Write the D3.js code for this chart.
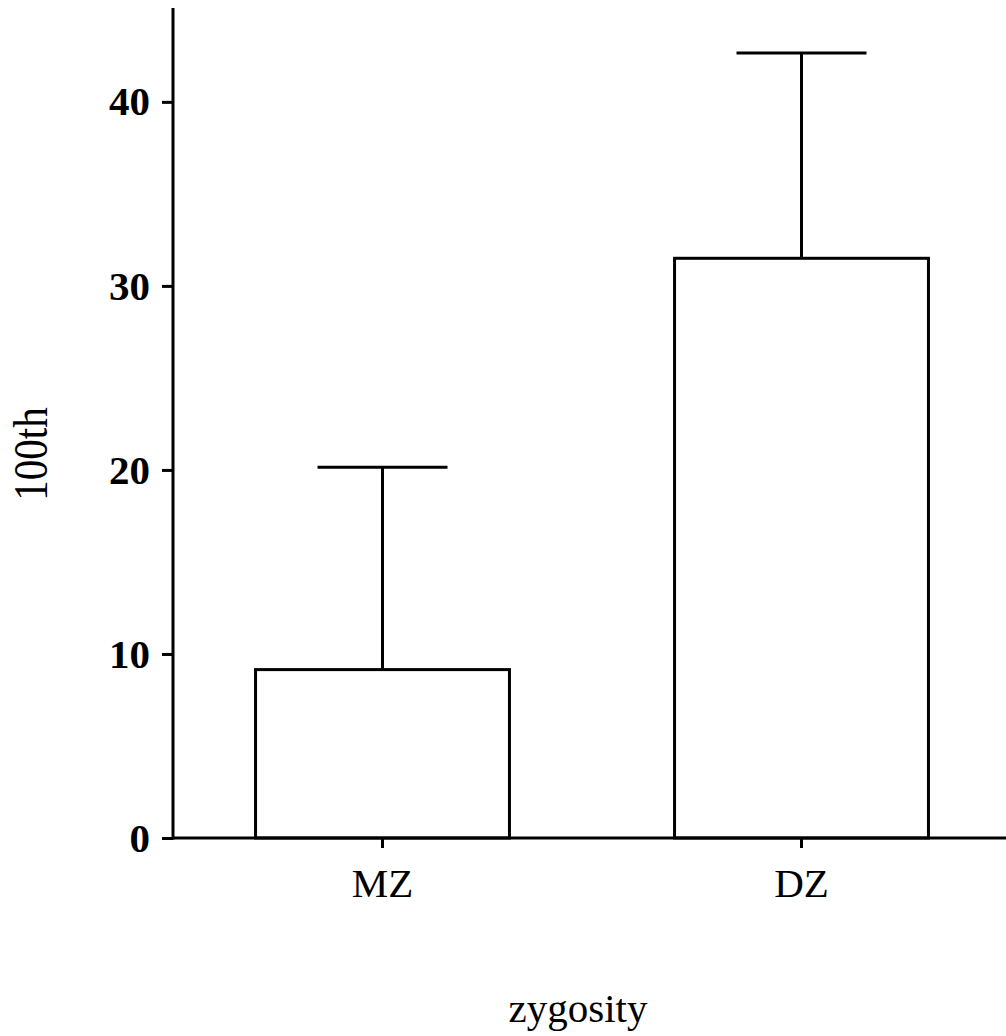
<!DOCTYPE html>
<html>
<head>
<meta charset="utf-8">
<script src="https://cdn.jsdelivr.net/npm/d3@7"></script>
<style>
  body { margin: 0; background: #fff; }
  svg { display: block; }
  .tick text { font-family: "Liberation Serif", "Times New Roman", serif; }
</style>
</head>
<body>
<svg id="chart" width="1006" height="1036"></svg>
<script>
// values
const groups = ['MZ', 'DZ']
const means = [9.15, 31.5]
const upper = [20.15, 42.65]
const yTicks = [0, 10, 20, 30, 40]
const yMax = 45.1

const width = 1006
const height = 1036
const margin = { top: 8, left: 173, bottom: 198 }
const axisY = height - margin.bottom

const svg = d3.select('#chart')

const x = d3.scaleBand()
    .domain(groups)
    .range([margin.left, 1011])
    .paddingInner(0.394)
    .paddingOuter(0.197)

const y = d3.scaleLinear()
    .domain([0, yMax])
    .range([axisY, margin.top])

const capWidth = 130

// bars
svg.selectAll('.bar')
    .data(groups)
    .enter()
    .append('rect')
    .attr('class', 'bar')
    .attr('x', d => x(d))
    .attr('width', x.bandwidth())
    .attr('y', (d, i) => y(means[i]))
    .attr('height', (d, i) => y(0) - y(means[i]))
    .attr('fill', '#fff')
    .attr('stroke', '#000')
    .attr('stroke-width', 3)

// error bars
const err = svg.selectAll('.err')
    .data(groups)
    .enter()
    .append('g')
    .attr('class', 'err')

err.append('line')
    .attr('x1', d => x(d) + x.bandwidth() / 2)
    .attr('x2', d => x(d) + x.bandwidth() / 2)
    .attr('y1', (d, i) => y(means[i]))
    .attr('y2', (d, i) => y(upper[i]))
    .attr('stroke', '#000')
    .attr('stroke-width', 3)

err.append('line')
    .attr('x1', d => x(d) + x.bandwidth() / 2 - capWidth / 2)
    .attr('x2', d => x(d) + x.bandwidth() / 2 + capWidth / 2)
    .attr('y1', (d, i) => y(upper[i]))
    .attr('y2', (d, i) => y(upper[i]))
    .attr('stroke', '#000')
    .attr('stroke-width', 3)

// y axis
const yAxis = svg.append('g')
    .attr('transform', 'translate(' + margin.left + ',0)')
    .call(d3.axisLeft(y).tickValues(yTicks).tickSize(11).tickPadding(12).tickFormat(d3.format('d')))
yAxis.select('.domain').remove()
yAxis.selectAll('.tick line').attr('stroke-width', 3)
yAxis.selectAll('.tick text')
    .attr('font-size', 41)
    .attr('font-weight', 'bold')
    .attr('fill', '#000')
yAxis.append('line')
    .attr('y1', y(yMax))
    .attr('y2', axisY + 1.5)
    .attr('stroke', '#000')
    .attr('stroke-width', 3)

// x axis
const xAxis = svg.append('g')
    .attr('transform', 'translate(0,' + axisY + ')')
    .call(d3.axisBottom(x).tickSize(10).tickPadding(20))
xAxis.select('.domain').remove()
xAxis.selectAll('.tick line').attr('stroke-width', 3)
xAxis.selectAll('.tick text')
    .attr('font-size', 41)
    .attr('fill', '#000')
xAxis.append('line')
    .attr('x1', margin.left)
    .attr('x2', width)
    .attr('stroke', '#000')
    .attr('stroke-width', 3)

// axis titles
svg.append('text')
    .attr('transform', 'translate(47,454) rotate(-90) scale(1,1.2)')
    .attr('text-anchor', 'middle')
    .attr('font-family', '"Liberation Serif", "Times New Roman", serif')
    .attr('font-size', 41)
    .text('100th')

svg.append('text')
    .attr('x', 578)
    .attr('y', 1022)
    .attr('text-anchor', 'middle')
    .attr('font-family', '"Liberation Serif", "Times New Roman", serif')
    .attr('font-size', 41)
    .text('zygosity')
</script>
</body>
</html>
